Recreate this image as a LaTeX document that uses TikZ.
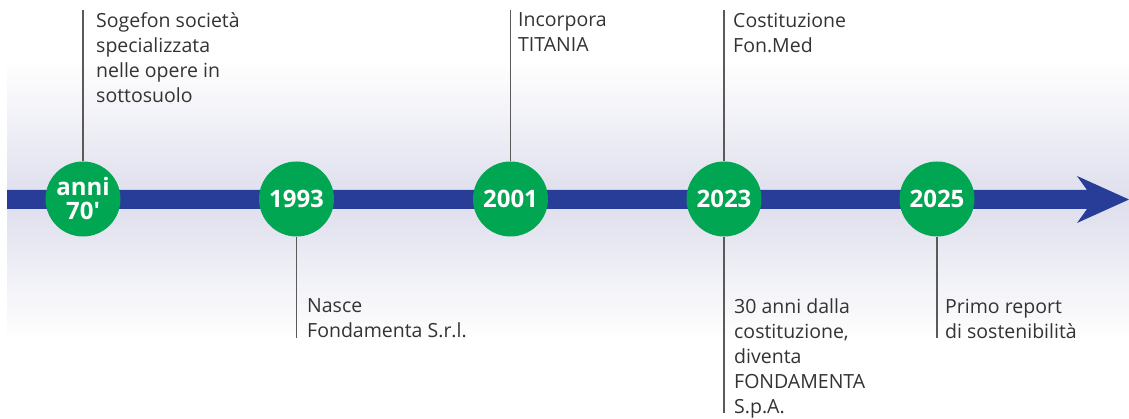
\documentclass[tikz,border=0pt]{standalone}
\usepackage{fontspec}
\setmainfont{Open Sans}
\usetikzlibrary{positioning}
\definecolor{fgreen}{RGB}{0,166,81}
\definecolor{fblue}{RGB}{40,61,151}
\definecolor{flav}{RGB}{222,222,237}
\definecolor{ftext}{RGB}{51,51,51}
\definecolor{fline}{RGB}{90,90,90}
\tikzset{
  year/.style = {circle, fill=fgreen, text=white, minimum size=75pt, inner sep=0pt, align=center, font=\fontsize{24}{24}\selectfont\bfseries},
  note/.style = {anchor=north west, inner sep=0pt, align=left, text=ftext, font=\fontsize{19.5}{25}\selectfont},
  tick/.style = {draw=fline, line width=1.2pt}
}
\begin{document}
\begin{tikzpicture}[x=1pt, y=1pt]
\useasboundingbox (0,0) rectangle (1129,419);
\shade[top color=white, bottom color=flav] (7,359) rectangle (1129,219);
\shade[top color=flav, bottom color=white] (7,219) rectangle (1129,79);
\fill[fblue] (7,229) -- (1087,229) -- (1077,243) -- (1129,219.5) -- (1077,196) -- (1087,210) -- (7,210) -- cycle;
\node[year] (y1) at (83,220) {anni\\70′};
\node[year] (y2) at (296.5,220) {1993};
\node[year] (y3) at (510.5,220) {2001};
\node[year] (y4) at (724,220) {2023};
\node[year] (y5) at (937,220) {2025};
\coordinate (e1) at (83,409);
\coordinate (e2) at (296.5,81);
\coordinate (e3) at (510.5,409);
\coordinate (e4) at (724,409);
\coordinate (f4) at (724,6);
\coordinate (e5) at (937,81);
\draw[tick] (y1) -- (e1);
\draw[tick] (y2) -- (e2);
\draw[tick] (y3) -- (e3);
\draw[tick] (y4) -- (e4);
\draw[tick] (y4) -- (f4);
\draw[tick] (y5) -- (e5);
\node[note] (n1) at (96,406.5) {Sogefon società\\specializzata\\nelle opere in\\sottosuolo};
\node[note] (n2) at (307,120.5) {Nasce\\Fondamenta S.r.l.};
\node[note] (n3) at (518,406.5) {Incorpora\\TITANIA};
\node[note] (n4) at (733,406.5) {Costituzione\\Fon.Med};
\node[note] (m4) at (734,120.5) {30 anni dalla\\costituzione,\\diventa\\FONDAMENTA\\S.p.A.};
\node[note] (n5) at (945,120.5) {Primo report\\di sostenibilità};
\end{tikzpicture}
\end{document}
